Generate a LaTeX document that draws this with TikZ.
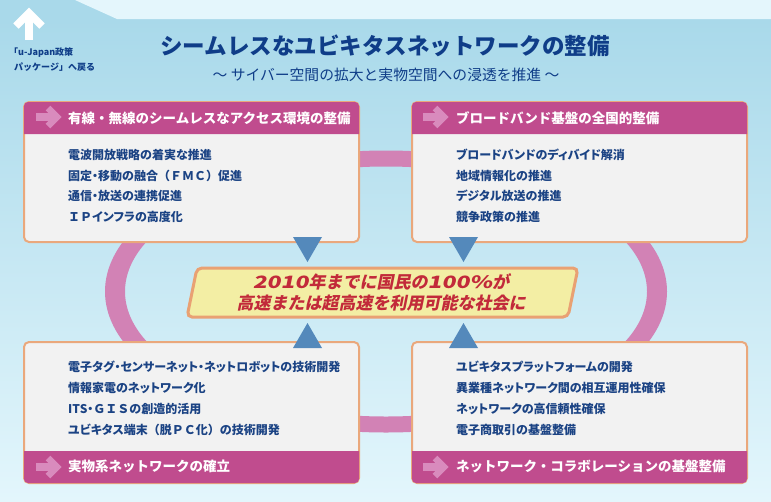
\documentclass[tikz,border=0pt]{standalone}
\usepackage{fontspec}
\setmainfont{Noto Sans CJK JP}
\newfontfamily\goalfont[FakeSlant=0.2]{Noto Sans CJK JP}
\newfontfamily\goaldigit[FakeSlant=0.2,FakeStretch=1.35]{Noto Sans CJK JP}
\newfontfamily\itemfont[RawFeature=+palt]{Noto Sans CJK JP}
\newcommand\fullw[1]{{\rmfamily #1}}
\usetikzlibrary{calc}
\definecolor{bgtop}{HTML}{A9D9EA}
\definecolor{bgbot}{HTML}{E3F6FC}
\definecolor{bglight}{HTML}{E4F6FC}
\definecolor{headpink}{HTML}{C04C8E}
\definecolor{arrowpink}{HTML}{D98BBD}
\definecolor{ringpink}{HTML}{D282B5}
\definecolor{borderorange}{HTML}{EAA87C}
\definecolor{bodygray}{HTML}{F2F2F2}
\definecolor{itemblue}{HTML}{1B4384}
\definecolor{titleblue}{HTML}{0F3D88}
\definecolor{goalfill}{HTML}{F3EEA4}
\definecolor{goalborder}{HTML}{E9A173}
\definecolor{goalred}{HTML}{C22A3A}
\definecolor{triblue}{HTML}{5489BB}
\tikzset{
  panel/.style={draw=borderorange, line width=2pt, fill=bodygray, rounded corners=5pt,
    minimum width=335pt, minimum height=140pt, inner sep=0pt},
  headtext/.style={anchor=west, inner sep=0pt, text=white, font=\fontsize{13.5}{15}\selectfont\bfseries},
  item/.style={anchor=west, inner sep=0pt, text=itemblue, font=\itemfont\fontsize{12}{14}\selectfont\bfseries},
  linktext/.style={anchor=west, inner sep=0pt, text=titleblue, font=\fontsize{9}{10}\selectfont\bfseries},
  tri/.style={fill=triblue},
  harrow/.pic={
    \draw[arrowpink, line width=8pt] (0,0) -- (18,0);
    \draw[arrowpink, line width=6.5pt, line join=miter] (12,-9) -- (21,0) -- (12,9);
  }
}
\begin{document}
\begin{tikzpicture}[x=1pt,y=-1pt]
\useasboundingbox (0,0) rectangle (771,501);
% background
\fill[bgtop] (0,0) rectangle (771,20);
\shade[top color=bgtop, bottom color=bgbot] (0,19.5) rectangle (771,501);
\fill[bglight] (75,0) -- (117,19) -- (771,19) -- (771,0) -- cycle;
% back link arrow
\draw[white, line width=8pt] (29,40) -- (29,14);
\draw[white, line width=7.5pt, line join=miter] (16,26) -- (29,13) -- (42,26);
\node[linktext] (link1) at (9,53) {「u-Japan政策};
\node[linktext] (link2) at (14,67) {パッケージ」へ戻る};
% title
\node[inner sep=0pt, text=titleblue, font=\fontsize{22.5}{26}\selectfont\bfseries] (title) at (385,46) {シームレスなユビキタスネットワークの整備};
\node[inner sep=0pt, text=titleblue, font=\fontsize{14.8}{17}\selectfont] (subtitle) at (386,75) {〜 サイバー空間の拡大と実物空間への浸透を推進 〜};
% ring
\fill[ringpink, even odd rule] (386,291.5) ellipse [x radius=281, y radius=141]
  (386,291.5) ellipse [x radius=261, y radius=125];
% panels
\node[panel] (tl) at (191.5,172) {};
\node[panel] (tr) at (579.5,172) {};
\node[panel, minimum height=141pt] (bl) at (191.5,412.5) {};
\node[panel, minimum height=141pt] (br) at (579.5,412.5) {};
% header / footer bands
\fill[headpink] ($(tl.north west)+(1,33)$) [rounded corners=4pt] -- ($(tl.north west)+(1,1)$) -- ($(tl.north east)+(-1,1)$) [sharp corners] -- ($(tl.north east)+(-1,33)$) -- cycle;
\fill[headpink] ($(tr.north west)+(1,33)$) [rounded corners=4pt] -- ($(tr.north west)+(1,1)$) -- ($(tr.north east)+(-1,1)$) [sharp corners] -- ($(tr.north east)+(-1,33)$) -- cycle;
\fill[headpink] ($(bl.south west)+(1,-33)$) [rounded corners=4pt] -- ($(bl.south west)+(1,-1)$) -- ($(bl.south east)+(-1,-1)$) [sharp corners] -- ($(bl.south east)+(-1,-33)$) -- cycle;
\fill[headpink] ($(br.south west)+(1,-33)$) [rounded corners=4pt] -- ($(br.south west)+(1,-1)$) -- ($(br.south east)+(-1,-1)$) [sharp corners] -- ($(br.south east)+(-1,-33)$) -- cycle;
\pic at ($(tl.north west)+(13,16)$) {harrow};
\pic at ($(tr.north west)+(12,16)$) {harrow};
\pic at ($(bl.south west)+(13,-17)$) {harrow};
\pic at ($(br.south west)+(12,-17)$) {harrow};
\node[headtext] (tlh) at (68,118) {有線・無線のシームレスなアクセス環境の整備};
\node[headtext] (trh) at (456,118) {ブロードバンド基盤の全国的整備};
\node[headtext] (blh) at (68,466) {実物系ネットワークの確立};
\node[headtext] (brh) at (456,466) {ネットワーク・コラボレーションの基盤整備};
% items
\node[item] (tl1) at (68,155) {電波開放戦略の着実な推進};
\node[item] (tl2) at (68,175.5) {固定・移動の融合\fullw{（ＦＭＣ）}促進};
\node[item] (tl3) at (68,196) {通信・放送の連携促進};
\node[item] (tl4) at (68,217) {\fullw{ＩＰ}インフラの高度化};
\node[item] (tr1) at (456,155) {ブロードバンドのディバイド解消};
\node[item] (tr2) at (456,175.5) {地域情報化の推進};
\node[item] (tr3) at (456,196) {デジタル放送の推進};
\node[item] (tr4) at (456,217) {競争政策の推進};
\node[item] (bl1) at (68,367) {電子タグ・センサーネット・ネットロボットの技術開発};
\node[item] (bl2) at (68,388) {情報家電のネットワーク化};
\node[item] (bl3) at (68,409) {ITS・\fullw{ＧＩＳ}の創造的活用};
\node[item] (bl4) at (68,430) {ユビキタス端末\fullw{（脱ＰＣ化）}の技術開発};
\node[item] (br1) at (456,367) {ユビキタスプラットフォームの開発};
\node[item] (br2) at (456,388) {異業種ネットワーク間の相互運用性確保};
\node[item] (br3) at (456,409) {ネットワークの高信頼性確保};
\node[item] (br4) at (456,430) {電子商取引の基盤整備};
% goal
\draw[fill=goalfill, draw=goalborder, line width=3pt, rounded corners=5pt]
  (197,268) -- (578,268) -- (568,317) -- (187,317) -- cycle;
\node[inner sep=0pt, align=center, text=goalred, font=\fontsize{17}{21}\selectfont\bfseries] (goal) at (381,292.5)
  {\goaldigit 2010\goalfont 年までに国民の\goaldigit 100\%\goalfont が\\\goalfont 高速または超高速を利用可能な社会に};
% triangles
\fill[tri] (293,237) -- (322,237) -- (307.5,262) -- cycle;
\fill[tri] (449,237) -- (478,237) -- (463.5,262) -- cycle;
\fill[tri] (293,348) -- (322,348) -- (307.5,323) -- cycle;
\fill[tri] (449,348) -- (478,348) -- (463.5,323) -- cycle;
\end{tikzpicture}
\end{document}
